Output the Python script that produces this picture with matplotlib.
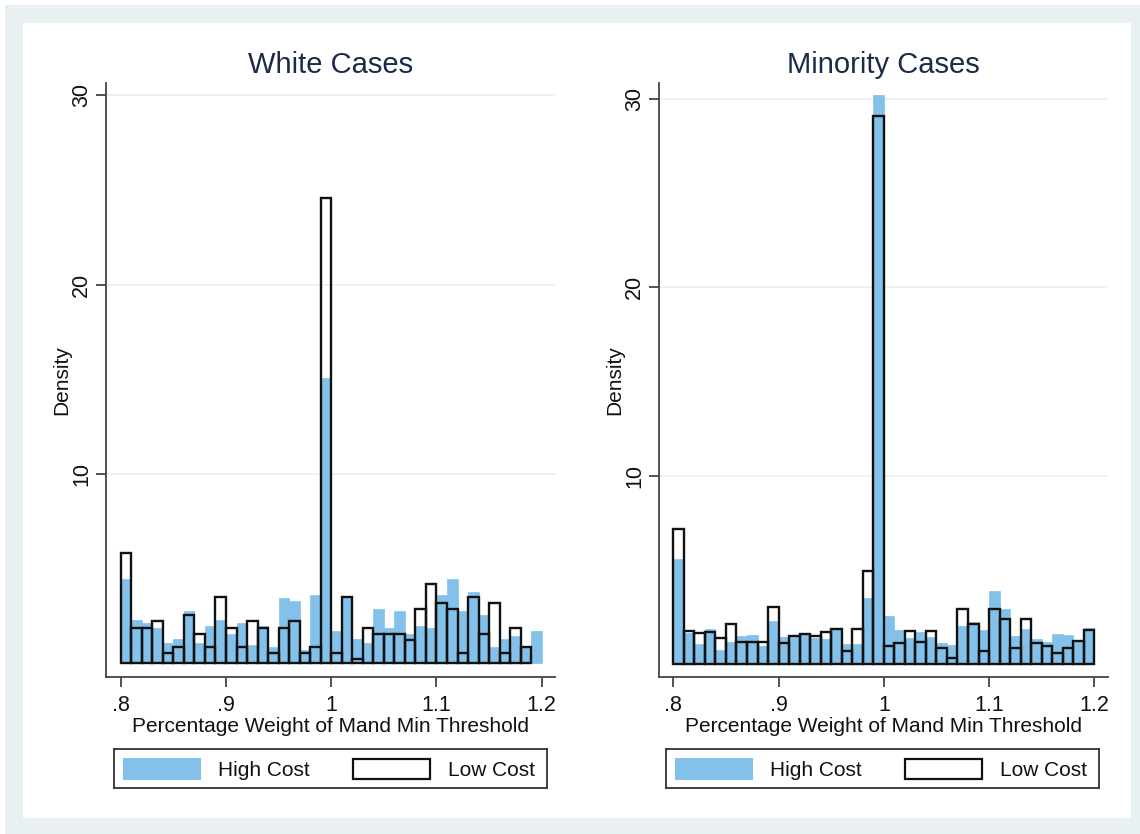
import numpy as np
import matplotlib.pyplot as plt
from matplotlib.patches import Rectangle

plt.rcParams['font.family'] = ['Liberation Sans', 'DejaVu Sans']

# bin edges: 40 bins of width .01 from .8 to 1.2
bin_lo = 0.8
bin_w = 0.01
n_bins = 40

white_high = [4.48, 2.30, 2.13, 1.87, 1.10, 1.30, 2.75, 1.10, 2.00, 2.30,
              1.56, 2.13, 0.98, 2.00, 0.84, 3.45, 3.31, 0.72, 3.60, 15.08,
              1.72, 3.45, 1.30, 1.10, 2.87, 1.87, 2.75, 1.55, 2.00, 1.87,
              3.60, 4.46, 2.75, 3.77, 2.57, 0.84, 1.30, 1.42, 0.85, 1.72]
white_low = [5.84, 1.87, 1.87, 2.24, 0.54, 0.89, 2.55, 1.55, 0.89, 3.51,
             1.87, 0.89, 2.24, 1.87, 0.54, 1.87, 2.24, 0.54, 0.89, 24.56,
             0.54, 3.51, 0.22, 1.87, 1.55, 1.55, 1.55, 1.21, 2.89, 4.20,
             3.20, 2.89, 0.54, 3.51, 1.55, 3.20, 0.54, 1.87, 0.89, 0.0]

minority_high = [5.59, 1.63, 1.05, 1.88, 0.74, 1.15, 1.49, 1.54, 0.97, 2.29,
                 1.42, 1.46, 1.60, 1.37, 1.33, 1.88, 1.07, 1.07, 3.53, 30.20,
                 2.55, 1.81, 1.37, 1.68, 1.42, 1.10, 0.99, 2.02, 2.25, 1.81,
                 3.85, 2.94, 1.49, 1.88, 1.33, 1.19, 1.60, 1.54, 1.20, 1.92]
minority_low = [7.16, 1.76, 1.63, 1.72, 1.37, 2.13, 1.19, 1.19, 1.19, 3.05,
                1.10, 1.49, 1.60, 1.49, 1.72, 1.88, 0.69, 1.88, 4.96, 29.10,
                0.96, 1.10, 1.76, 1.19, 1.76, 0.83, 0.30, 2.91, 2.13, 0.69,
                2.91, 2.39, 0.83, 2.39, 1.10, 0.96, 0.57, 0.83, 1.22, 1.81]

panel_titles = ['White Cases', 'Minority Cases']
xticks = [0.8, 0.9, 1.0, 1.1, 1.2]
xticklabels = ['.8', '.9', '1', '1.1', '1.2']
yticks = [10, 20, 30]

W, H = 1140, 834
blue = '#83c0ea'
navy = '#1c2a4a'
gridc = '#e6f0f0'
framec = '#e8f0f2'

fig = plt.figure(figsize=(W / 100, H / 100), dpi=100)
fig.patch.set_facecolor('white')
# outer frame and inner white region
fig.patches.append(Rectangle((5 / W, 0), 1 - 5 / W, 1 - 5 / H, transform=fig.transFigure,
                             facecolor=framec, edgecolor='none', zorder=-10))
fig.patches.append(Rectangle((23 / W, 1 - 818 / H), (1131 - 23) / W, (818 - 23) / H,
                             transform=fig.transFigure, facecolor='white',
                             edgecolor='none', zorder=-9))


def px_axes(x0, y0, x1, y1):
    return fig.add_axes([x0 / W, 1 - y1 / H, (x1 - x0) / W, (y1 - y0) / H])


edges = bin_lo + bin_w * np.arange(n_bins)

panels = [
    (106, 555, white_high, white_low, (0.786, 1.2126), (-0.72, 30.66), 114, 547),
    (659, 1108, minority_high, minority_low, (0.7864, 1.213), (-0.69, 30.85), 666, 1099),
]

for i, (x0, x1, high, low, xl, yl, lx0, lx1) in enumerate(panels):
    ax = px_axes(x0, 83, x1, 677)
    high = np.array(high)
    low = np.array(low)
    ax.bar(edges, high, width=bin_w, align='edge', color=blue,
           edgecolor=blue, linewidth=0.5, zorder=2)
    m = low > 0
    ax.bar(edges[m], low[m], width=bin_w, align='edge', fill=False,
           edgecolor='#111111', linewidth=1.7, zorder=3)
    ax.set_xlim(*xl)
    ax.set_ylim(*yl)
    for yv in yticks:
        ax.axhline(yv, color=gridc, lw=1.2, zorder=0)
    ax.set_xticks(xticks)
    ax.set_xticklabels(xticklabels)
    ax.set_yticks(yticks)
    ax.set_yticklabels([str(v) for v in yticks], rotation=90, va='center')
    ax.tick_params(axis='both', labelsize=15.5, colors='#333333', labelcolor='#111111',
                   length=7, width=1.2, direction='out')
    ax.tick_params(axis='x', pad=6)
    ax.tick_params(axis='y', pad=3)
    for s in ['top', 'right']:
        ax.spines[s].set_visible(False)
    for s in ['left', 'bottom']:
        ax.spines[s].set_color('#444444')
        ax.spines[s].set_linewidth(1.3)
    ax.set_xlabel('Percentage Weight of Mand Min Threshold', fontsize=15,
                  color='#111111', labelpad=1)
    ax.set_ylabel('Density', fontsize=15, color='#111111', labelpad=0)
    ax.set_title(panel_titles[i], fontsize=21, color=navy, pad=7)

    # legend box
    lax = px_axes(lx0, 749, lx1, 788)
    lax.set_xlim(0, lx1 - lx0)
    lax.set_ylim(39, 0)
    lax.set_xticks([])
    lax.set_yticks([])
    for s in lax.spines.values():
        s.set_color('#333333')
        s.set_linewidth(1.3)
    lax.add_patch(Rectangle((9, 9), 78, 22, facecolor=blue, edgecolor='none'))
    lax.text(104, 21, 'High Cost', fontsize=15, va='center', ha='left', color='#111111')
    lax.add_patch(Rectangle((239, 10), 77, 20, facecolor='white',
                            edgecolor='#111111', linewidth=1.6))
    lax.text(334, 21, 'Low Cost', fontsize=15, va='center', ha='left', color='#111111')

fig.savefig('out.png', dpi=100)
